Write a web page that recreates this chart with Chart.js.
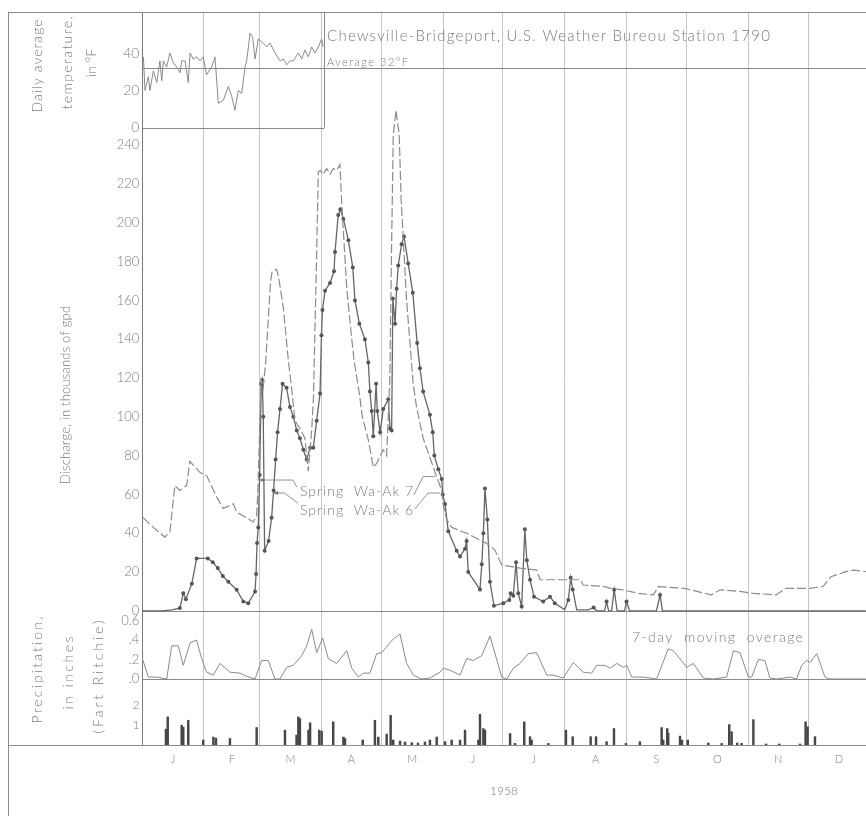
<!DOCTYPE html>
<html>
<head>
<meta charset="utf-8">
<script src="https://cdn.jsdelivr.net/npm/chart.js@4.4.1/dist/chart.umd.min.js"></script>
<style>
html,body{margin:0;padding:0;background:#fff;}
#wrap{width:866px;height:816px;position:relative;overflow:hidden;}
canvas{display:block;}
</style>
</head>
<body>
<div id="wrap"><canvas id="c" width="866" height="816"></canvas></div>
<script>
// ---------------- DATA ----------------
const monthLabels = ['J','F','M','A','M','J','J','A','S','O','N','D'];
const monthStarts = [0,31,59,90,120,151,181,212,243,273,304,334];
const monthMids   = [15.5,45,74.5,105,135.5,166,196.5,227.5,258,288.5,319,349.5];
const yearLabel = '1958';

// Daily average temperature, °F (Jan - Mar)
const tempDays   = [0.7,1.5,3.2,4,5.7,7.4,9,9.9,10.7,12.4,14,15.7,17.4,19.1,19.9,21.6,23.2,24.1,25.7,27.4,29.1,30.7,32.4,35,36.6,38.3,40.8,43.3,45,46.6,48.3,50,51.7,52.5,54.2,55.5,56.7,58.3,60.8,62.5,64.2,66.7,69.2,70.9,72.6,74.2,75.9,78.4,80.1,81.7,83.4,85.1,86.8,88.4,90.1,90.9];
const tempValues = [38.2,20,27.5,20,30.7,24.3,36,25.3,36,32.8,40.3,35,32.8,29.6,36,36,24.3,40.3,37,38.2,36,38.2,28.5,32.8,38.2,13.1,14.7,22.2,16.8,9.3,20,18.5,32.8,36,51,48.8,37,47.8,45.6,43.5,45.6,40.3,36,37,33.9,36,36,40.3,37,41.9,38.2,43.5,40.3,43.5,47.8,43.5];
const tempAverage = 32;

// Discharge, thousands of gpd — Spring Wa-Ak 7
const wa7Days   = [0.5,5.7,11.5,14,16.5,19,22.4,24,29,32.4,37.5,40.8,45.8,47.5,55.8,57.5,58.3,59,59.8,60.8,62,64.5,65.3,67.5,68.5,70.9,73.4,75,76.7,79.2,81.7,83.4,85.1,86,87.5,88.4,89.3,90.9,92.6,94.3,95.9,97.6,99.3,100.1,102.7,105,106.5,109,110.5,113.5,116,117.7,121,122.7,124.3,125.2,126,127.4,129,130,132.7,136,137.7,141,144.4,147.8,150.3,151,152.8,155.3,162.8,169.5,172.9,177,180.4,189.6,198,199.6,219.7,221.3,232,235,241,249,256.5,259,272,285.5,290,300,306.5,318,323,335,341.5,345.5,353,357,363];
const wa7Values = [48,43,38,40.7,64.6,62,64.6,77,71.4,69.7,58.6,52.7,55.2,50.9,45.8,49,67,95,119,115,128,170,175,176,172,156,129,115,98,94,89,72,93,110,180,226,227,225,228,225,228,227,230,211,166,142,128,112,100,88,74,76,83,80,120,190,245,258,245,211,160,117,105,89,79,69,62,55,47,43,40,36.4,34.7,31.3,23.6,22,21,16,16,13.3,12.5,11.6,10.8,9,8.2,12.5,11.6,8.2,10.8,10,9,8.2,11.6,11.6,12.5,17.6,20.2,21,20.2];

// Discharge, thousands of gpd — Spring Wa-Ak 6
const wa6Days   = [0,10,15,19,20.7,22,25,27.4,33,35.5,38,40.5,43.3,47.5,50.8,53.3,56.7,57.2,57.7,58.3,59,59.8,60.3,60.8,61.5,63.5,65,66,67,68,69.2,70.5,72.5,74.2,75.9,77.6,79.2,80.9,82.6,84.3,85.9,87.6,89.3,90,90.5,91.8,94.3,96.3,96.8,98.4,99.5,101,103.5,105.7,106.8,109,111.8,113.5,114.3,115.2,116,117.4,118,119.4,121,123.5,124.4,125.2,125.8,126.9,127.7,128.5,130.2,131.4,133.5,135.8,138,139.4,141,144.4,145.8,146.6,148.6,150.3,150.8,152,153.6,157.8,159.5,162,162.8,163.6,169.5,170.4,171.2,172,173.2,174.5,176.5,181.2,184.2,184.9,186.2,187.6,188.7,190.4,192,193,194.6,196.6,201.2,204.6,207,212,213.8,215,216,218,224,226.5,228,232,233,234,235.5,236.8,238.3,242,243,244.5,258,259.8,261,363];
const wa6Values = [0,0,0.5,1.4,9,6,14,27,27,25,22,18,15,10.8,4.8,3.9,9.9,19,35,43,70,117,119,100,31,36,48,62,78,92,104,117,115,105,100,93,89,83,78,84,84,98,112,142,155,165,169,175,185,204,207,202,191,177,160,148,140,128,113,103,90,117,103,92,104,109,94,93,161,148,166,178,189,193,179,164,138,125,113,101,92,80,73,68,60,55,41,31,28,32,36,20,11,24,40,63,47,15,2.6,3.9,5.6,9,7.7,25,9,2.2,42,26,16,7.3,4.8,7.3,3.9,0.5,5.6,17,11,0.5,0.5,1.7,0,0,4.8,0,0,10.8,0,0,4.8,0,0,8.2,0,0];

// Precipitation, 7-day moving average, inches
const p7Days   = [0,3.2,7.4,12.4,14.9,18.2,20.7,24.1,27.4,29.9,32.4,35.8,39.1,44.1,49.1,53.3,56.7,60,63.3,66.7,69.2,72.6,75.9,80.1,82.6,85.1,87.6,90.6,93.4,97.6,102.7,105.2,108.5,111,114.3,117.7,120.2,126,129.4,132.7,136.1,140.3,144.4,149.4,151.1,154.5,159.5,162.8,166.1,170.4,174.5,180.4,182.9,186.2,189.6,193.7,197.9,203,206.3,211.3,216.3,221.3,225.5,228,232.2,234.7,238.1,241.4,243.1,245.6,251.4,258.1,263.9,266.5,273.2,276.5,281.5,286.5,293.2,296.6,299.9,304.1,305.8,309.1,312.4,314.9,318.3,325,328.3,330.8,333.4,335,338.4,342.5,345,363];
const p7Values = [0.22,0.02,0.02,0,0.34,0.34,0.14,0.37,0.40,0.21,0.07,0.04,0.16,0.07,0.06,0.02,0,0.19,0.19,0,0,0.12,0.14,0.24,0.34,0.51,0.27,0.42,0.21,0.16,0.29,0.11,0.02,0.06,0.06,0.26,0.27,0.41,0.46,0.16,0.04,0,0.01,0.07,0.11,0.09,0.04,0.21,0.19,0.24,0.44,0.02,0,0.11,0.16,0.26,0.27,0.04,0.04,0.01,0.17,0.07,0.06,0.14,0.14,0.11,0.16,0.12,0.14,0.02,0.02,0,0.31,0.29,0.12,0.16,0.01,0,0.02,0.29,0.27,0.02,0.02,0.20,0.19,0.01,0,0.02,0,0.14,0.19,0.17,0.26,0.02,0,0];

// Daily precipitation, inches
const pdDays   = [12,12.9,19.9,20.7,23.2,30.7,35.8,37.1,44.1,57.5,71.7,77.5,78.4,79.2,83.5,84.3,88.9,90.1,95.9,101,101.8,110.7,116.8,118.5,122.7,124.7,126,129.4,131.9,135.3,138.4,141.9,144.4,147.8,152,155.3,159.5,162,168.7,169.5,171.2,172,184.6,187.1,191.7,194.6,195.4,203.8,212.6,216,225,227.7,233,236.7,242.7,249.7,260.6,261.4,263.4,263.9,269.8,270.8,273.7,284,290.7,294.5,295.7,298.5,300.7,306.6,313,319.6,330,332.8,333.8,337.5];
const pdValues = [0.8,1.42,1.0,0.9,1.25,0.25,0.4,0.35,0.33,0.88,0.75,0.5,1.42,1.33,0.75,1.12,0.75,0.7,1.17,0.4,0.33,0.25,1.25,0.4,0.55,1.5,0.25,0.2,0.15,0.12,0.1,0.15,0.25,0.4,0.17,0.25,0.25,0.75,0.25,1.55,0.83,0.75,0.58,0.08,1.17,0.42,0.25,0.08,0.75,0.42,0.42,0.42,0.17,0.83,0.08,0.17,0.88,0.25,0.83,0.6,0.45,0.25,0.25,0.1,0.08,1.03,0.67,0.1,0.08,1.28,0.05,0.05,0.05,1.17,0.92,0.42];

// Axis tick values / labels
const tempTicks = [0,10,20,30,40,50];
const tempTickLabels = {0:'0',20:'20',40:'40'};
const qTicks = [0,10,20,30,40,50,60,70,80,90,100,110,120,130,140,150,160,170,180,190,200,210,220,230,240];
const p7Ticks = [0,0.2,0.4,0.6];
const p7TickLabels = ['.0','.2','.4','0.6'];
const pdTicks = [1,2];
const pdTickLabels = ['1','2'];

// ---------------- LAYOUT (pixels / styles) ----------------
const L = {left:142, right:866, top:12, bottom:745, canvasH:816, frameX:8};
const pxPerDay = 666/334;
const xMax = (L.right - L.left)/pxPerDay;
const tempPanelEndDay = 91.5;
function range(zeroPx, pxPerUnit){
  return {min: -(L.bottom - zeroPx)/pxPerUnit, max: (zeroPx - L.top)/pxPerUnit};
}
const rT  = range(127.5, 1.85);
const rQ  = range(610.8, 1.94);
const rP7 = range(679, 97.5);
const rPD = range(745, 19.8);

const FONT = 'Lato, "DejaVu Sans", sans-serif';
const TXT = '#7c7c7c';
const zip = (xs, ys) => xs.map((x,i)=>({x:x, y:ys[i]}));

function spaced(ctx, text, x, y, width, size, noShrink){
  ctx.letterSpacing = '0px';
  ctx.font = '300 ' + size + 'px ' + FONT;
  let w = ctx.measureText(text).width;
  if (!noShrink && w > width*1.04){ size = size*width/w; ctx.font = '300 ' + size.toFixed(2) + 'px ' + FONT; w = ctx.measureText(text).width; }
  const extra = (width - w)/Math.max(1, text.length-1);
  if ('letterSpacing' in ctx && extra > 0) ctx.letterSpacing = extra.toFixed(2)+'px';
  ctx.fillText(text, x, y);
  ctx.letterSpacing = '0px';
}
function rotText(ctx, text, cx, cy, len, size){
  ctx.save();
  ctx.translate(cx, cy);
  ctx.rotate(-Math.PI/2);
  ctx.textBaseline = 'middle';
  ctx.font = '300 ' + size + 'px ' + FONT;
  const w = Math.max(len, ctx.measureText(text).width);
  ctx.textAlign = 'left';
  spaced(ctx, text, -w/2, 0, w, size, true);
  ctx.restore();
}

// leader lines in data space [day, discharge]
const leader7L = [[77.7,63.8],[75.7,67.4],[58.7,67.4]];
const leader6L = [[78.2,55.5],[71.5,60.7],[65.8,60.7]];
const leader7R = [[136.4,59.7],[140.9,69.2],[146.9,69.2]];
const leader6R = [[136.9,52.5],[143.4,60.7],[149.4,60.7]];

const deco = {
  id:'deco',
  beforeDatasetsDraw(chart){
    const {ctx, chartArea:a, scales:s} = chart;
    ctx.save();
    ctx.strokeStyle = '#8a8a8a';
    ctx.lineWidth = 1;
    const hl = (y,x1,x2)=>{ const yy=Math.round(y)+0.5; ctx.beginPath(); ctx.moveTo(x1,yy); ctx.lineTo(x2,yy); ctx.stroke(); };
    const vl = (x,y1,y2)=>{ const xx=Math.round(x)+0.5; ctx.beginPath(); ctx.moveTo(xx,y1); ctx.lineTo(xx,y2); ctx.stroke(); };
    hl(s.yQ.getPixelForValue(0), a.left, a.right);
    hl(s.yP7.getPixelForValue(0), a.left, a.right);
    hl(s.yT.getPixelForValue(tempAverage), a.left, a.right);
    const bx = s.x.getPixelForValue(tempPanelEndDay);
    const t0 = s.yT.getPixelForValue(0);
    hl(t0, a.left, bx);
    vl(bx, a.top, t0);
    // frame
    vl(L.frameX, a.top, L.canvasH);
    hl(a.top, L.frameX, a.right);
    hl(a.bottom, L.frameX, a.right);
    ctx.restore();
  },
  afterDatasetsDraw(chart){
    const {ctx, scales:s} = chart;
    ctx.save();
    ctx.fillStyle = TXT;
    ctx.textAlign = 'left';
    ctx.textBaseline = 'middle';
    spaced(ctx, 'Chewsville-Bridgeport, U.S. Weather Bureou Station 1790', 327, 36, 443, 15);
    spaced(ctx, 'Average 32°F', 327, 62, 81, 11);
    spaced(ctx, 'Spring  Wa-Ak 7', 300, 491, 113, 14);
    spaced(ctx, 'Spring  Wa-Ak 6', 300, 510, 113, 14);
    spaced(ctx, '7-day  moving  overage', 632, 637, 171, 14);
    // axis titles
    rotText(ctx, 'Daily average', 37, 66, 93, 14);
    rotText(ctx, 'temperature,', 67, 63, 93, 14);
    rotText(ctx, 'in °F', 91, 63, 26, 14);
    rotText(ctx, 'Discharge, in thousands of gpd', 66, 395, 178, 13);
    rotText(ctx, 'Precipitation,', 37, 670, 107, 14);
    rotText(ctx, 'in inches', 68, 673, 73, 14);
    rotText(ctx, '(Fart Ritchie)', 98, 677, 113, 14);
    // leader lines
    ctx.strokeStyle = '#8a8a8a';
    ctx.lineWidth = 0.9;
    const px = p => [s.x.getPixelForValue(p[0]), s.yQ.getPixelForValue(p[1])];
    const poly = (pts, arrow) => {
      const P = pts.map(px);
      ctx.beginPath(); ctx.moveTo(P[0][0],P[0][1]);
      for (let i=1;i<P.length;i++) ctx.lineTo(P[i][0],P[i][1]);
      ctx.stroke();
      if (arrow){
        const e = P[P.length-1];
        ctx.beginPath(); ctx.moveTo(e[0],e[1]); ctx.lineTo(e[0]+5,e[1]-2); ctx.lineTo(e[0]+5,e[1]+2); ctx.closePath();
        ctx.fillStyle = '#777'; ctx.fill();
      }
    };
    poly(leader7L, true);
    poly(leader6L, true);
    poly(leader7R, false);
    poly(leader6R, false);
    ctx.restore();
  }
};

const allXTicks = monthStarts.concat(monthMids).sort((a,b)=>a-b);

const yCommon = (r) => ({
  type:'linear', min:r.min, max:r.max, position:{x:-1.3},
  grid:{display:false}, border:{display:false}
});

new Chart(document.getElementById('c'), {
  type:'line',
  data:{
    datasets:[
      {label:'Daily average temperature', data:zip(tempDays,tempValues), yAxisID:'yT',
       borderColor:'#8a8a8a', borderWidth:1, pointRadius:0, tension:0},
      {label:'Spring Wa-Ak 7', data:zip(wa7Days,wa7Values), yAxisID:'yQ',
       borderColor:'#8c8c8c', borderWidth:1.2, borderDash:[9,3], pointRadius:0, tension:0},
      {label:'Spring Wa-Ak 6', data:zip(wa6Days,wa6Values), yAxisID:'yQ',
       borderColor:'#666', borderWidth:1.3, tension:0,
       pointRadius: c => (c.raw && c.raw.y > 1) ? 2 : 0,
       pointBackgroundColor:'#555', pointBorderWidth:0},
      {label:'7-day moving average', data:zip(p7Days,p7Values), yAxisID:'yP7',
       borderColor:'#8a8a8a', borderWidth:1, pointRadius:0, tension:0},
      {type:'bar', label:'Daily precipitation', data:zip(pdDays,pdValues), yAxisID:'yPD',
       backgroundColor:'#474747', borderWidth:0, barThickness:1.8}
    ]
  },
  options:{
    responsive:false, animation:false, events:[],
    layout:{padding:{left:L.left, top:L.top, right:0, bottom:0}},
    plugins:{legend:{display:false}, tooltip:{enabled:false}},
    scales:{
      x:{
        type:'linear', min:0, max:xMax, offset:false,
        afterBuildTicks: sc => { sc.ticks = allXTicks.map(v=>({value:v})); },
        afterFit: sc => { sc.height = L.canvasH - L.bottom; },
        grid:{offset:false, drawTicks:false, lineWidth:1,
          color: c => { const v = c.tick ? c.tick.value : null;
            if (v === 0) return '#7a7a7a';
            return monthStarts.includes(v) ? '#c6c6c6' : 'rgba(0,0,0,0)'; }},
        border:{display:false},
        ticks:{autoSkip:false, maxRotation:0, minRotation:0, padding:8, color:TXT,
          font:{family:FONT, size:11, weight:'300'},
          callback: v => { const i = monthMids.indexOf(v); return i>=0 ? monthLabels[i] : ''; }},
        title:{display:true, text:yearLabel, color:TXT, font:{family:FONT, size:12, weight:'300'},
          padding:{top:0, bottom:18}}
      },
      yT:Object.assign(yCommon(rT), {
        afterBuildTicks: sc => { sc.ticks = tempTicks.map(v=>({value:v})); },
        ticks:{color:TXT, font:{family:FONT, size:14, weight:'300'},
          callback: v => (tempTickLabels[v] !== undefined ? tempTickLabels[v] : '')}
      }),
      yQ:Object.assign(yCommon(rQ), {
        afterBuildTicks: sc => { sc.ticks = qTicks.map(v=>({value:v})); },
        ticks:{color:TXT, font:{family:FONT, size:13, weight:'300'},
          callback: v => (v % 20 === 0 ? String(v) : '')}
      }),
      yP7:Object.assign(yCommon(rP7), {
        afterBuildTicks: sc => { sc.ticks = p7Ticks.map(v=>({value:v})); },
        ticks:{color:TXT, font:{family:FONT, size:13, weight:'300'},
          callback: (v,i) => p7TickLabels[i]}
      }),
      yPD:Object.assign(yCommon(rPD), {
        afterBuildTicks: sc => { sc.ticks = pdTicks.map(v=>({value:v})); },
        ticks:{color:TXT, font:{family:FONT, size:12, weight:'300'},
          callback: (v,i) => pdTickLabels[i]}
      })
    }
  },
  plugins:[deco]
});
</script>
</body>
</html>
